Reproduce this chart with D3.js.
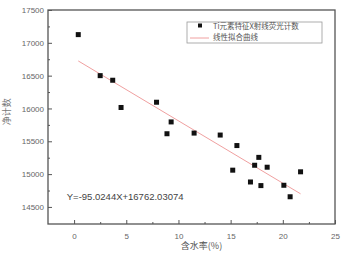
<!DOCTYPE html>
<html>
<head>
<meta charset="utf-8">
<script src="https://cdn.jsdelivr.net/npm/d3@7"></script>
<style>
  body { margin: 0; background: #fff; }
  svg text { font-family: "Liberation Sans", Arial, sans-serif; }
</style>
</head>
<body>
<div id="chart"></div>
<script>
// 含水率 (%) 与净计数
var waterContent = [0.4, 2.5, 3.7, 4.5, 7.9, 9.3, 8.9, 11.5, 14.0, 15.6, 15.2, 17.7, 17.3, 18.5, 16.9, 17.9, 20.1, 20.7, 21.7];
var netCounts = [17125, 16500, 16430, 16015, 16095, 15795, 15615, 15625, 15595, 15435, 15060, 15255, 15135, 15105, 14880, 14825, 14830, 14655, 15035];
var xTicks = [0, 5, 10, 15, 20, 25];
var yTicks = [14500, 15000, 15500, 16000, 16500, 17000, 17500];
var slope = -95.0244, intercept = 16762.03074;

var points = waterContent.map(function(d, i) { return { x: d, y: netCounts[i] }; });

var margin = { top: 10, right: 10, bottom: 30, left: 48 },
    width = 345 - margin.left - margin.right,
    height = 254 - margin.top - margin.bottom;

var svg = d3.select("#chart")
    .append("svg")
    .attr("width", 345)
    .attr("height", 254)
    .append("g")
    .attr("transform", "translate(" + margin.left + "," + margin.top + ")");

var x = d3.scaleLinear().domain([-2.5, 25]).range([0, width]);
var y = d3.scaleLinear().domain([14240, 17500]).range([height, 0]);

// khung
svg.append("rect")
    .attr("width", width).attr("height", height)
    .attr("fill", "none").attr("stroke", "#555").attr("stroke-width", 1.3);

// trục x, tick hướng vào trong
svg.append("g")
    .attr("transform", "translate(0," + height + ")")
    .call(d3.axisBottom(x).tickValues(xTicks).tickFormat(d3.format("d")).tickSizeInner(-4).tickSizeOuter(0).tickPadding(9));
svg.append("g")
    .attr("transform", "translate(0," + height + ")")
    .call(d3.axisBottom(x).tickValues([2.5, 7.5, 12.5, 17.5, 22.5]).tickSizeInner(-2).tickSizeOuter(0).tickFormat(""));

svg.append("g")
    .call(d3.axisLeft(y).tickValues(yTicks).tickFormat(d3.format("d")).tickSizeInner(-4).tickSizeOuter(0).tickPadding(4));
svg.append("g")
    .call(d3.axisLeft(y).tickValues([14750, 15250, 15750, 16250, 16750, 17250]).tickSizeInner(-2).tickSizeOuter(0).tickFormat(""));

svg.selectAll(".domain").attr("stroke", "none");
svg.selectAll(".tick line").attr("stroke", "#555");
svg.selectAll(".tick text").attr("fill", "#666").attr("font-size", "8px");

// đường hồi quy
var xMin = d3.min(waterContent), xMax = d3.max(waterContent);
svg.append("line")
    .attr("x1", x(xMin)).attr("y1", y(slope * xMin + intercept))
    .attr("x2", x(xMax)).attr("y2", y(slope * xMax + intercept))
    .attr("stroke", "#f0a0a0").attr("stroke-width", 1);

// điểm
svg.selectAll(".pt")
    .data(points)
    .enter().append("rect")
    .attr("class", "pt")
    .attr("x", function(d) { return x(d.x) - 2.5; })
    .attr("y", function(d) { return y(d.y) - 2.5; })
    .attr("width", 5).attr("height", 5)
    .attr("fill", "#111");

// phương trình
svg.append("text")
    .attr("x", x(-0.7)).attr("y", y(14610))
    .attr("font-size", "9.5px").attr("fill", "#444")
    .text("Y=-95.0244X+16762.03074");

// chú giải
var lg = svg.append("g").attr("transform", "translate(" + (187 - margin.left) + "," + (22 - margin.top) + ")");
lg.append("rect").attr("width", 135).attr("height", 21)
    .attr("fill", "#fff").attr("stroke", "#999").attr("stroke-width", 0.8);
lg.append("rect").attr("x", 11).attr("y", 1.5).attr("width", 4).attr("height", 4).attr("fill", "#111");
lg.append("text").attr("x", 26).attr("y", 7).attr("font-size", "7.5px").attr("fill", "#555")
    .style("font-family", "'Noto Sans CJK SC', sans-serif")
    .text("Ti元素特征X射线荧光计数");
lg.append("line").attr("x1", 3).attr("x2", 22).attr("y1", 16).attr("y2", 16)
    .attr("stroke", "#f0a0a0").attr("stroke-width", 1);
lg.append("text").attr("x", 26).attr("y", 18).attr("font-size", "7.5px").attr("fill", "#555")
    .style("font-family", "'Noto Sans CJK SC', sans-serif")
    .text("线性拟合曲线");

// nhãn trục
svg.append("text")
    .attr("x", width / 2 + 10).attr("y", height + 25)
    .attr("text-anchor", "middle").attr("font-size", "9px").attr("fill", "#555")
    .style("font-family", "'Noto Sans CJK SC', sans-serif")
    .text("含水率(%)");
svg.append("text")
    .attr("transform", "translate(" + (-38) + "," + (y(15950)) + ") rotate(-90)")
    .attr("text-anchor", "middle").attr("font-size", "9px").attr("fill", "#777")
    .style("font-family", "'Noto Sans CJK SC', sans-serif")
    .text("净计数");
</script>
</body>
</html>
